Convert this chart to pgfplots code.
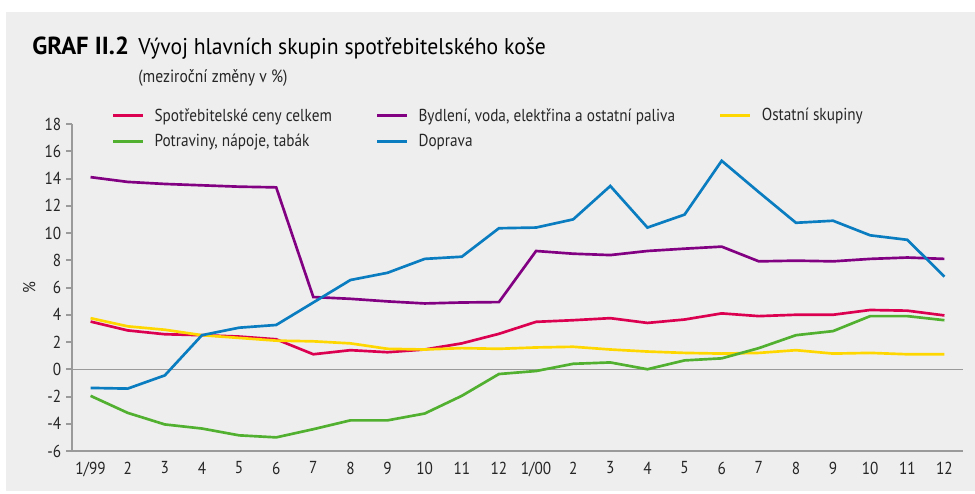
\documentclass[border=0pt]{standalone}
\usepackage{fontspec}
\setmainfont{PT Sans}[FakeStretch=0.88]
\newfontfamily\titlefont{PT Sans}[FakeStretch=0.95]
\newfontfamily\titleboldfont{PT Sans Bold}
\usepackage{pgfplots}
\pgfplotsset{compat=1.18}
\definecolor{panel}{HTML}{EEEEEE}
\definecolor{txt}{HTML}{262626}
\definecolor{axgray}{HTML}{9A9A9A}
\definecolor{cred}{HTML}{DC0050}
\definecolor{cpurple}{HTML}{820082}
\definecolor{cyellow}{HTML}{FFD700}
\definecolor{cgreen}{HTML}{52B030}
\definecolor{cblue}{HTML}{0A7CC0}
\begin{document}
\begin{tikzpicture}
\fill[white] (0,0) rectangle (731.25pt,-369.75pt);
\fill[panel] (4.5pt,-9pt) rectangle (731.25pt,-368.25pt);
\node[anchor=base west, inner sep=0pt, text=black] at (24pt,-40.5pt) {{\titleboldfont\fontsize{18.5}{20}\selectfont GRAF II.2}\hspace{7pt}{\titlefont\fontsize{17.1}{20}\selectfont Vývoj hlavních skupin spotřebitelského koše}};
\node[anchor=base west, inner sep=0pt, text=txt, font=\fontsize{13.3}{15}\selectfont] at (103.5pt,-61.5pt) {(meziroční změny v \%)};
\begin{axis}[
  at={(54pt,-338.25pt)}, anchor=south west,
  scale only axis, width=668.25pt, height=245.25pt,
  xmin=-0.5, xmax=23.5, ymin=-6, ymax=18,
  axis x line*=bottom, axis y line*=left,
  axis line style={axgray, line width=1.5pt, -},
  xtick={0,...,23},
  xticklabels={1/99,2,3,4,5,6,7,8,9,10,11,12,1/00,2,3,4,5,6,7,8,9,10,11,12},
  minor xtick={-0.5,0.5,...,23.5},
  xtick style={draw=none},
  minor x tick style={axgray, line width=1.5pt},
  minor tick length=4.5pt,
  ytick={-6,-4,...,18},
  yticklabels={{-6},{-4},{-2},{0},{2},{4},{6},{8},{10},{12},{14},{16},{18}},
  y tick style={axgray, line width=1.5pt},
  major tick length=4.5pt,
  tick align=outside,
  ticklabel style={font=\fontsize{13}{15}\selectfont, text=txt},
  ylabel={\%}, ylabel style={font=\fontsize{13}{15}\selectfont, text=txt},
  legend columns=3,
  legend cell align=left,
  legend style={draw=none, fill=none, at={(0.04,1.065)}, anchor=north west,
    font=\fontsize{13}{15}\selectfont, text=txt, row sep=4.5pt,
    /tikz/every odd column/.append style={column sep=5.5pt},
    /tikz/every even column/.append style={column sep=31pt}},
  legend image code/.code={\draw[#1, line width=2pt] (0pt,0pt) -- (22.5pt,0pt);},
  every axis plot/.append style={line width=2pt},
  clip=false,
]
\draw[axgray, line width=0.8pt] (axis cs:-0.5,0) -- (axis cs:23.5,0);
\addplot[cred] coordinates {(0,3.5)(1,2.85)(2,2.57)(3,2.5)(4,2.4)(5,2.2)(6,1.1)(7,1.4)(8,1.25)(9,1.45)(10,1.9)(11,2.6)(12,3.48)(13,3.6)(14,3.75)(15,3.4)(16,3.65)(17,4.1)(18,3.9)(19,4.0)(20,4.0)(21,4.35)(22,4.3)(23,3.95)};
\addlegendentry{Spotřebitelské ceny celkem}
\addplot[cpurple] coordinates {(0,14.1)(1,13.75)(2,13.6)(3,13.5)(4,13.4)(5,13.35)(6,5.3)(7,5.17)(8,4.98)(9,4.83)(10,4.9)(11,4.93)(12,8.68)(13,8.48)(14,8.38)(15,8.68)(16,8.85)(17,9.0)(18,7.92)(19,7.97)(20,7.92)(21,8.1)(22,8.2)(23,8.1)};
\addlegendentry{Bydlení, voda, elektřina a ostatní paliva}
\addplot[cyellow] coordinates {(0,3.75)(1,3.15)(2,2.9)(3,2.5)(4,2.3)(5,2.1)(6,2.05)(7,1.9)(8,1.5)(9,1.45)(10,1.55)(11,1.5)(12,1.6)(13,1.65)(14,1.45)(15,1.3)(16,1.2)(17,1.15)(18,1.2)(19,1.4)(20,1.15)(21,1.2)(22,1.1)(23,1.1)};
\addlegendentry{Ostatní skupiny}
\addplot[cgreen] coordinates {(0,-1.95)(1,-3.2)(2,-4.05)(3,-4.35)(4,-4.85)(5,-5.0)(6,-4.4)(7,-3.75)(8,-3.75)(9,-3.25)(10,-1.95)(11,-0.35)(12,-0.13)(13,0.4)(14,0.5)(15,0.0)(16,0.65)(17,0.8)(18,1.55)(19,2.5)(20,2.8)(21,3.9)(22,3.9)(23,3.6)};
\addlegendentry{Potraviny, nápoje, tabák}
\addplot[cblue] coordinates {(0,-1.37)(1,-1.42)(2,-0.45)(3,2.5)(4,3.05)(5,3.25)(6,4.9)(7,6.55)(8,7.08)(9,8.1)(10,8.26)(11,10.35)(12,10.4)(13,11.0)(14,13.45)(15,10.4)(16,11.35)(17,15.3)(18,13.0)(19,10.75)(20,10.9)(21,9.83)(22,9.5)(23,6.8)};
\addlegendentry{Doprava}
\end{axis}
\end{tikzpicture}
\end{document}
